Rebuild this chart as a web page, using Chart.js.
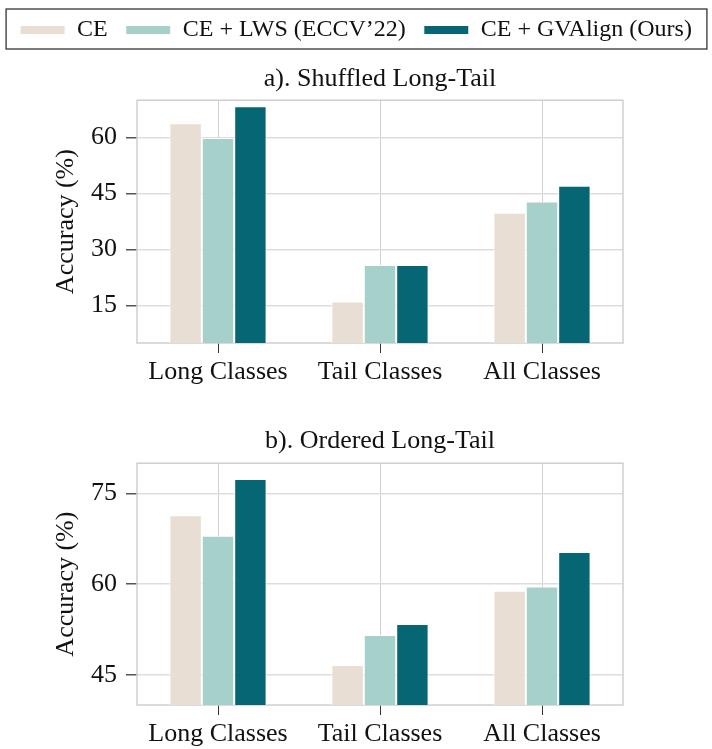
<!DOCTYPE html>
<html>
<head>
<meta charset="utf-8">
<script src="https://cdn.jsdelivr.net/npm/chart.js@4"></script>
<style>
  body { margin: 0; background: #fff; }
  canvas { display: block; }
</style>
</head>
<body>
<canvas id="chart-a" width="712" height="400"></canvas>
<canvas id="chart-b" width="712" height="349"></canvas>
<script>
// data
const categories = ['Long Classes', 'Tail Classes', 'All Classes'];
const seriesNames = ['CE', 'CE + LWS (ECCV’22)', 'CE + GVAlign (Ours)'];
const shuffledCE = [63.8, 16.1, 39.9];
const shuffledLWS = [59.9, 25.9, 42.9];
const shuffledGVAlign = [68.4, 25.9, 47.1];
const orderedCE = [71.4, 46.6, 58.9];
const orderedLWS = [68.0, 51.6, 59.6];
const orderedGVAlign = [77.4, 53.4, 65.3];
const shuffledTicks = [15, 30, 45, 60];
const orderedTicks = [45, 60, 75];

const colors = ['#e8ded3', '#a6d1cb', '#066674'];
const serif = 'Liberation Serif, Times New Roman, serif';
const textColor = '#111';

// box round the legend
const legendFrame = {
  id: 'legendFrame',
  afterDraw(chart) {
    const lg = chart.legend;
    const boxes = lg.legendHitBoxes;
    const left = Math.min(...boxes.map(b => b.left)) - 14;
    const right = Math.max(...boxes.map(b => b.left + b.width)) + 15;
    const ctx = chart.ctx;
    ctx.save();
    ctx.strokeStyle = '#333';
    ctx.lineWidth = 1.3;
    ctx.strokeRect(left, lg.top + 9, right - left, 40);
    ctx.restore();
  }
};

// light frame round the plot area, under the bars
const plotFrame = {
  id: 'plotFrame',
  beforeDatasetsDraw(chart) {
    const {ctx, chartArea: a} = chart;
    ctx.save();
    ctx.strokeStyle = '#cfcfcf';
    ctx.lineWidth = 1.5;
    ctx.strokeRect(a.left, a.top, a.right - a.left, a.bottom - a.top);
    ctx.restore();
  }
};

function makeChart(id, title, values, yMin, yMax, yTicks, cfg) {
  const ctx = document.getElementById(id).getContext('2d');
  return new Chart(ctx, {
    type: 'bar',
    data: {
      labels: categories,
      datasets: values.map((v, i) => ({
        label: seriesNames[i],
        data: v,
        backgroundColor: colors[i],
        borderColor: '#ffffff',
        borderWidth: 1,
        categoryPercentage: 0.6,
        barPercentage: 1.0
      }))
    },
    options: {
      responsive: false,
      animation: false,
      devicePixelRatio: 1,
      layout: { padding: { top: 0, left: 0, right: 0, bottom: 0 } },
      plugins: {
        tooltip: { enabled: false },
        legend: {
          display: cfg.legend,
          weight: 3000,
          labels: {
            boxWidth: 45,
            boxHeight: 9,
            padding: 18,
            color: textColor,
            font: { family: serif, size: 24 }
          }
        },
        title: {
          display: true,
          text: title,
          fullSize: false,
          color: textColor,
          font: { family: serif, size: 26, weight: 'normal' },
          padding: cfg.titlePadding
        }
      },
      scales: {
        x: {
          offset: true,
          grid: { offset: false, color: '#d0d0d0', lineWidth: 1, tickLength: 10, tickColor: '#333' },
          border: { display: false },
          ticks: { color: textColor, font: { family: serif, size: 26 }, padding: 4, maxRotation: 0, autoSkip: false },
          afterFit(s) { s.height = cfg.xHeight; }
        },
        y: {
          min: yMin,
          max: yMax,
          afterBuildTicks(s) { s.ticks = yTicks.map(v => ({ value: v })); },
          grid: { color: '#dddddd', lineWidth: 1.5, tickLength: 11, tickColor: '#555' },
          border: { display: false },
          ticks: { color: textColor, font: { family: serif, size: 26 }, padding: 9 },
          title: {
            display: true,
            text: 'Accuracy (%)',
            color: textColor,
            font: { family: serif, size: 26 },
            padding: { top: 51, bottom: 0 }
          },
          afterFit(s) { s.width = 137; }
        },
        right: {
          type: 'linear',
          position: 'right',
          grid: { display: false },
          border: { display: false },
          ticks: { display: false },
          afterFit(s) { s.width = 89; }
        }
      }
    },
    plugins: cfg.legend ? [legendFrame, plotFrame] : [plotFrame]
  });
}

makeChart('chart-a', 'a). Shuffled Long-Tail',
  [shuffledCE, shuffledLWS, shuffledGVAlign], 5, 70, shuffledTicks,
  { legend: true, titlePadding: { top: 12, bottom: 5 }, xHeight: 57 });

makeChart('chart-b', 'b). Ordered Long-Tail',
  [orderedCE, orderedLWS, orderedGVAlign], 40, 80, orderedTicks,
  { legend: false, titlePadding: { top: 26, bottom: 6 }, xHeight: 44 });
</script>
</body>
</html>
